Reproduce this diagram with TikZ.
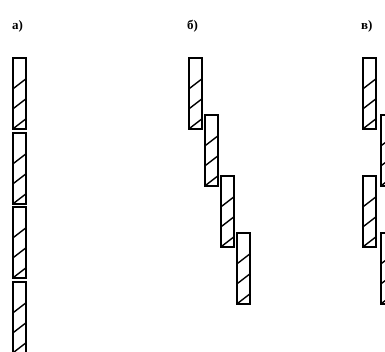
\documentclass[tikz,border=0pt]{standalone}
\usepackage{fontspec}
\setmainfont{Liberation Serif}
\begin{document}
\begin{tikzpicture}[x=1pt,y=-1pt,
  barbox/.style={draw,line width=1.8pt,minimum width=13pt,minimum height=71pt,inner sep=0pt,
    path picture={
      \draw[line width=1.4pt] ([yshift=-31pt]path picture bounding box.north west) -- ([xshift=13pt,yshift=-21pt]path picture bounding box.north west);
      \draw[line width=1.4pt] ([yshift=-51pt]path picture bounding box.north west) -- ([xshift=13pt,yshift=-41pt]path picture bounding box.north west);
      \draw[line width=1.4pt] ([yshift=-71pt]path picture bounding box.north west) -- ([xshift=13pt,yshift=-61pt]path picture bounding box.north west);
    }},
  lbl/.style={font=\fontsize{13}{15}\selectfont\bfseries,inner sep=0pt,anchor=west}]
\useasboundingbox (0,0) rectangle (385,352);
\node[lbl] (la) at (12,26) {а)};
\node[lbl] (lb) at (187,26) {б)};
\node[lbl] (lc) at (361,26) {в)};
% column a
\node[barbox,anchor=north west] (a1) at (12,57) {};
\node[barbox,anchor=north west] (a2) at (12,132) {};
\node[barbox,anchor=north west] (a3) at (12,206) {};
\node[barbox,anchor=north west] (a4) at (12,281) {};
% column b
\node[barbox,anchor=north west] (b1) at (188,57) {};
\node[barbox,anchor=north west] (b2) at (204,114) {};
\node[barbox,anchor=north west] (b3) at (220,175) {};
\node[barbox,anchor=north west] (b4) at (236,232) {};
% column c
\node[barbox,anchor=north west] (c1) at (362,57) {};
\node[barbox,anchor=north west] (c2) at (380,114) {};
\node[barbox,anchor=north west] (c3) at (362,175) {};
\node[barbox,anchor=north west] (c4) at (380,232) {};
\end{tikzpicture}
\end{document}
